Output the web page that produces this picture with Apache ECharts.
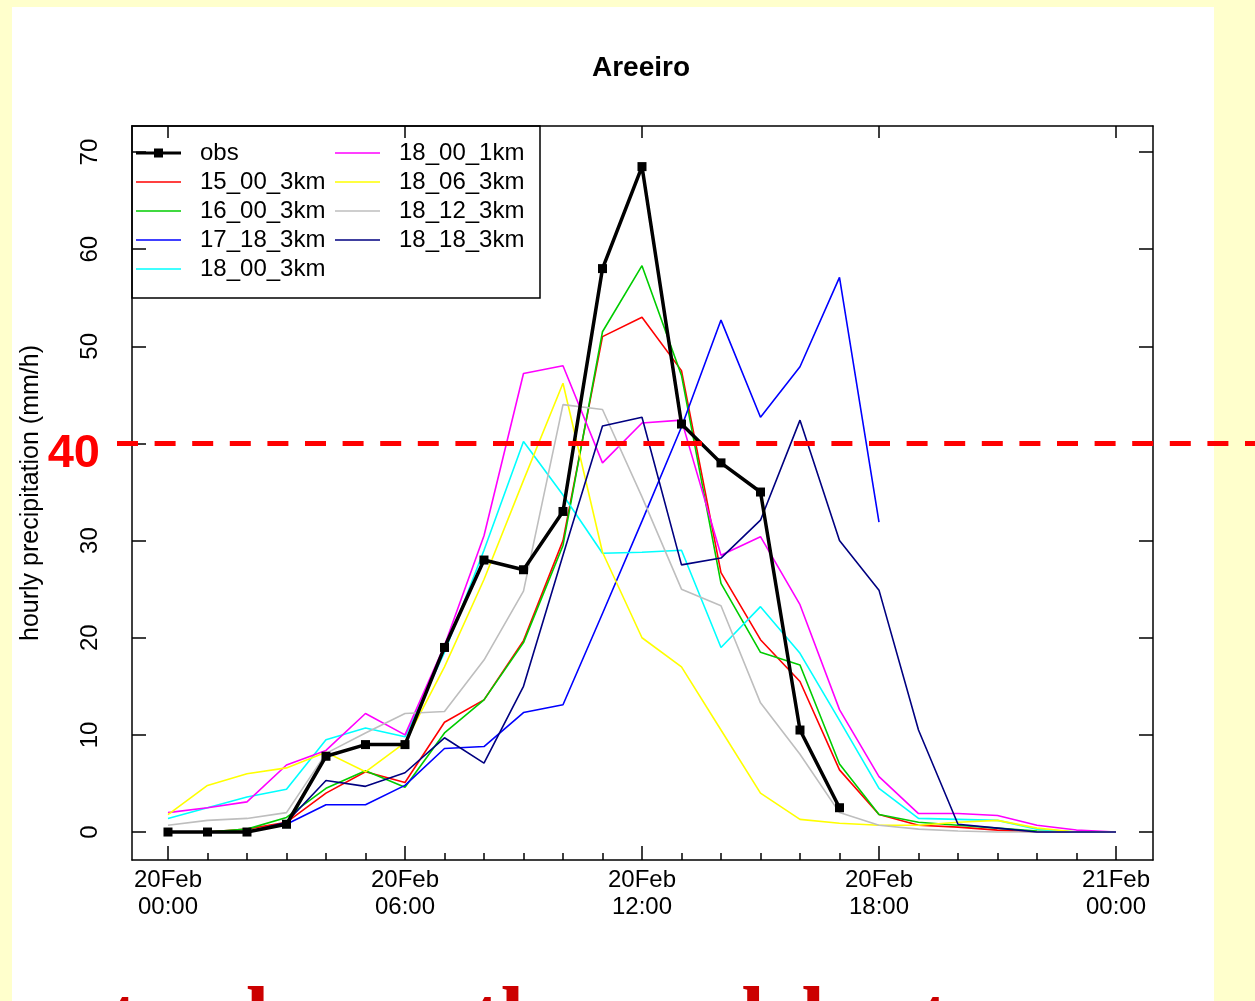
<!DOCTYPE html>
<html><head><meta charset="utf-8">
<script src="https://cdn.jsdelivr.net/npm/echarts@6/dist/echarts.min.js"></script>
<style>
html,body{margin:0;padding:0;background:#FFFFCC;width:1255px;height:1001px;overflow:hidden;}
#panel{position:absolute;left:12px;top:7px;width:1202px;height:994px;background:#fff;}
#note{position:absolute;left:110px;top:975px;font:bold 84px 'Liberation Serif',serif;color:#CC0000;white-space:nowrap;line-height:84px;}
#chart{position:absolute;left:0;top:0;width:1255px;height:1001px;}
</style></head><body>
<div id="panel"></div>
<div id="note">tend near the models at</div>
<div id="chart"></div>
<script>
// ---- data (hourly, hour 0 = 20Feb 00:00) ----
const xTickValues = [0, 6, 12, 18, 24];
const xTickLabels = ['20Feb\n00:00', '20Feb\n06:00', '20Feb\n12:00', '20Feb\n18:00', '21Feb\n00:00'];
const xMinorValues = [1,2,3,4,5,7,8,9,10,11,13,14,15,16,17,19,20,21,22,23];
const yTickValues = [0, 10, 20, 30, 40, 50, 60, 70];

const obs      = [0, 0, 0, 0.8, 7.8, 9, 9, 19, 28, 27, 33, 58, 68.5, 42, 38, 35, 10.5, 2.5];
const r15_00   = [0, 0, 0.3, 1, 4, 6.2, 5.1, 11.3, 13.6, 19.7, 30, 51, 53, 47.5, 26.7, 19.8, 15.5, 6.4, 1.8, 0.7, 0.5, 0.2, 0, 0, 0];
const g16_00   = [0, 0, 0.3, 1.5, 4.5, 6.3, 4.6, 10.2, 13.6, 19.5, 29.5, 51.5, 58.3, 47, 25.6, 18.5, 17.2, 7, 1.8, 1.0, 0.7, 0.4, 0.1, 0, 0];
const b17_18   = [0, 0, 0, 0.8, 2.8, 2.8, 4.8, 8.6, 8.8, 12.3, 13.1, 22.5, 32, 41.7, 52.7, 42.7, 47.9, 57.1, 31.9];
const c18_00   = [1.4, 2.5, 3.6, 4.4, 9.5, 10.7, 9.8, 18.5, 29, 40.2, 34.7, 28.7, 28.8, 29, 19, 23.2, 18.4, 11.5, 4.5, 1.4, 1.3, 1.2, 0.3, 0, 0];
const m18_00_1 = [2, 2.5, 3.1, 6.9, 8.4, 12.2, 10, 19.2, 30.5, 47.2, 48, 38, 42.1, 42.4, 28.5, 30.4, 23.4, 12.6, 5.7, 1.9, 1.9, 1.7, 0.7, 0.2, 0];
const y18_06   = [1.8, 4.8, 6, 6.6, 8.2, 6.2, 9.2, 17, 26, 36.2, 46.2, 28.8, 20, 17, 10.5, 4, 1.3, 0.9, 0.7, 0.7, 1.0, 1.2, 0.4, 0, 0];
const k18_12   = [0.7, 1.2, 1.4, 2, 8.1, 10.2, 12.2, 12.4, 17.7, 24.8, 44, 43.5, 34.5, 25, 23.3, 13.3, 8, 2, 0.7, 0.3, 0.1, 0, 0, 0, 0];
const n18_18   = [0, 0, 0, 1, 5.3, 4.7, 6.1, 9.7, 7.1, 15, 28.5, 41.8, 42.7, 27.5, 28.2, 32.1, 42.4, 30, 24.9, 10.5, 0.8, 0.4, 0, 0, 0];
const threshold = 40;

const legendCol1 = ['obs', '15_00_3km', '16_00_3km', '17_18_3km', '18_00_3km'];
const legendCol2 = ['18_00_1km', '18_06_3km', '18_12_3km', '18_18_3km'];

// ---- chart ----
const XMIN = -0.911, XMAX = 24.937, YMIN = -2.88, YMAX = 72.68;
const FONT = "'Liberation Sans', Arial, sans-serif";
const toXY = arr => arr.map((v, i) => [i, v]);
const lineAx = {color: '#000', width: 1.5};
const ICON_LINE = 'path://M0,0 L45,0 L45,1.6 L0,1.6 Z';
const ICON_OBS = 'path://M0,5.6 L45,5.6 L45,8.6 L0,8.6 Z M18,2.6 L27,2.6 L27,11.6 L18,11.6 Z';
const legendItems = names => names.map(n => ({name: n, icon: n === 'obs' ? ICON_OBS : ICON_LINE}));

function model(name, arr, color) {
  return {name, type: 'line', data: toXY(arr), xAxisIndex: 0, yAxisIndex: 0,
    showSymbol: false, symbol: 'none', color, lineStyle: {color, width: 1.6}, z: 2};
}

const chart = echarts.init(document.getElementById('chart'), null, {renderer: 'canvas'});
const legendBase = {orient: 'vertical', top: 141, itemWidth: 45, itemHeight: 14, itemGap: 5, padding: 0,
  symbolKeepAspect: true,
  textStyle: {fontFamily: FONT, fontSize: 24, color: '#000', lineHeight: 24, padding: [0, 0, 0, 14]}};

chart.setOption({
  animation: false,
  backgroundColor: 'transparent',
  title: {text: 'Areeiro', left: 587, top: 49,
    textStyle: {fontFamily: FONT, fontSize: 28, fontWeight: 'bold', color: '#000'}},
  legend: [
    Object.assign({data: legendItems(legendCol1), left: 136}, legendBase),
    Object.assign({data: legendItems(legendCol2), left: 335}, legendBase)
  ],
  graphic: [{type: 'rect', shape: {x: 132, y: 126, width: 408, height: 172},
    style: {fill: 'rgba(0,0,0,0)', stroke: '#000', lineWidth: 1.5}, z: 10}],
  grid: [
    {left: 132, right: 102, top: 126, bottom: 141},
    {left: 117, right: 0, top: 126, bottom: 141}
  ],
  xAxis: [
    {type: 'value', gridIndex: 0, position: 'bottom', min: XMIN, max: XMAX,
      axisLine: {show: true, onZero: false, lineStyle: lineAx},
      axisTick: {show: true, inside: true, length: 14, customValues: xTickValues, lineStyle: lineAx},
      axisLabel: {show: true, customValues: xTickValues,
        formatter: v => xTickLabels[xTickValues.indexOf(Math.round(v))],
        fontFamily: FONT, fontSize: 24, lineHeight: 27, color: '#000', margin: 7},
      splitLine: {show: false}},
    {type: 'value', gridIndex: 0, position: 'bottom', min: XMIN, max: XMAX,
      axisLine: {show: false, onZero: false},
      axisTick: {show: true, inside: true, length: 7, customValues: xMinorValues, lineStyle: lineAx},
      axisLabel: {show: false}, splitLine: {show: false}},
    {type: 'value', gridIndex: 0, position: 'top', min: XMIN, max: XMAX,
      axisLine: {show: true, onZero: false, lineStyle: lineAx},
      axisTick: {show: true, inside: true, length: 12, customValues: xTickValues, lineStyle: lineAx},
      axisLabel: {show: false}, splitLine: {show: false}},
    {type: 'value', gridIndex: 1, min: 0, max: 1, show: false}
  ],
  yAxis: [
    {type: 'value', gridIndex: 0, position: 'left', min: YMIN, max: YMAX,
      axisLine: {show: true, onZero: false, lineStyle: lineAx},
      axisTick: {show: true, inside: true, length: 14, customValues: yTickValues, lineStyle: lineAx},
      axisLabel: {show: true, customValues: yTickValues, rotate: 90, fontFamily: FONT, fontSize: 24, color: '#000', margin: 30},
      splitLine: {show: false},
      name: 'hourly precipitation (mm/h)', nameLocation: 'middle', nameGap: 88,
      nameTextStyle: {fontFamily: FONT, fontSize: 25, color: '#000'}},
    {type: 'value', gridIndex: 0, position: 'right', min: YMIN, max: YMAX,
      axisLine: {show: true, onZero: false, lineStyle: lineAx},
      axisTick: {show: true, inside: true, length: 14, customValues: yTickValues, lineStyle: lineAx},
      axisLabel: {show: false}, splitLine: {show: false}},
    {type: 'value', gridIndex: 1, min: YMIN, max: YMAX, show: false}
  ],
  series: [
    model('15_00_3km', r15_00, '#FF0000'),
    model('16_00_3km', g16_00, '#00CC00'),
    model('17_18_3km', b17_18, '#0000FF'),
    model('18_00_3km', c18_00, '#00FFFF'),
    model('18_00_1km', m18_00_1, '#FF00FF'),
    model('18_06_3km', y18_06, '#FFFF00'),
    model('18_12_3km', k18_12, '#BEBEBE'),
    model('18_18_3km', n18_18, '#000080'),
    {name: 'obs', type: 'line', data: toXY(obs), xAxisIndex: 0, yAxisIndex: 0,
      symbol: 'rect', symbolSize: 9, showSymbol: true, color: '#000',
      itemStyle: {color: '#000'}, lineStyle: {color: '#000', width: 3.5}, z: 5},
    {name: 'threshold', type: 'line', xAxisIndex: 3, yAxisIndex: 2, z: 6,
      symbol: 'circle', symbolSize: 0.1, itemStyle: {color: 'rgba(0,0,0,0)'},
      lineStyle: {color: '#FF0000', width: 5, type: [21, 16.6]},
      data: [
        {value: [0, threshold], label: {show: true, formatter: String(threshold), position: 'left', distance: 9,
          offset: [0, 11], color: '#FF0000', fontFamily: FONT, fontWeight: 'bold', fontSize: 47,
          backgroundColor: '#fff', padding: [0, 8, 0, 0]}},
        [1, threshold]
      ]}
  ]
});
</script>
</body></html>
